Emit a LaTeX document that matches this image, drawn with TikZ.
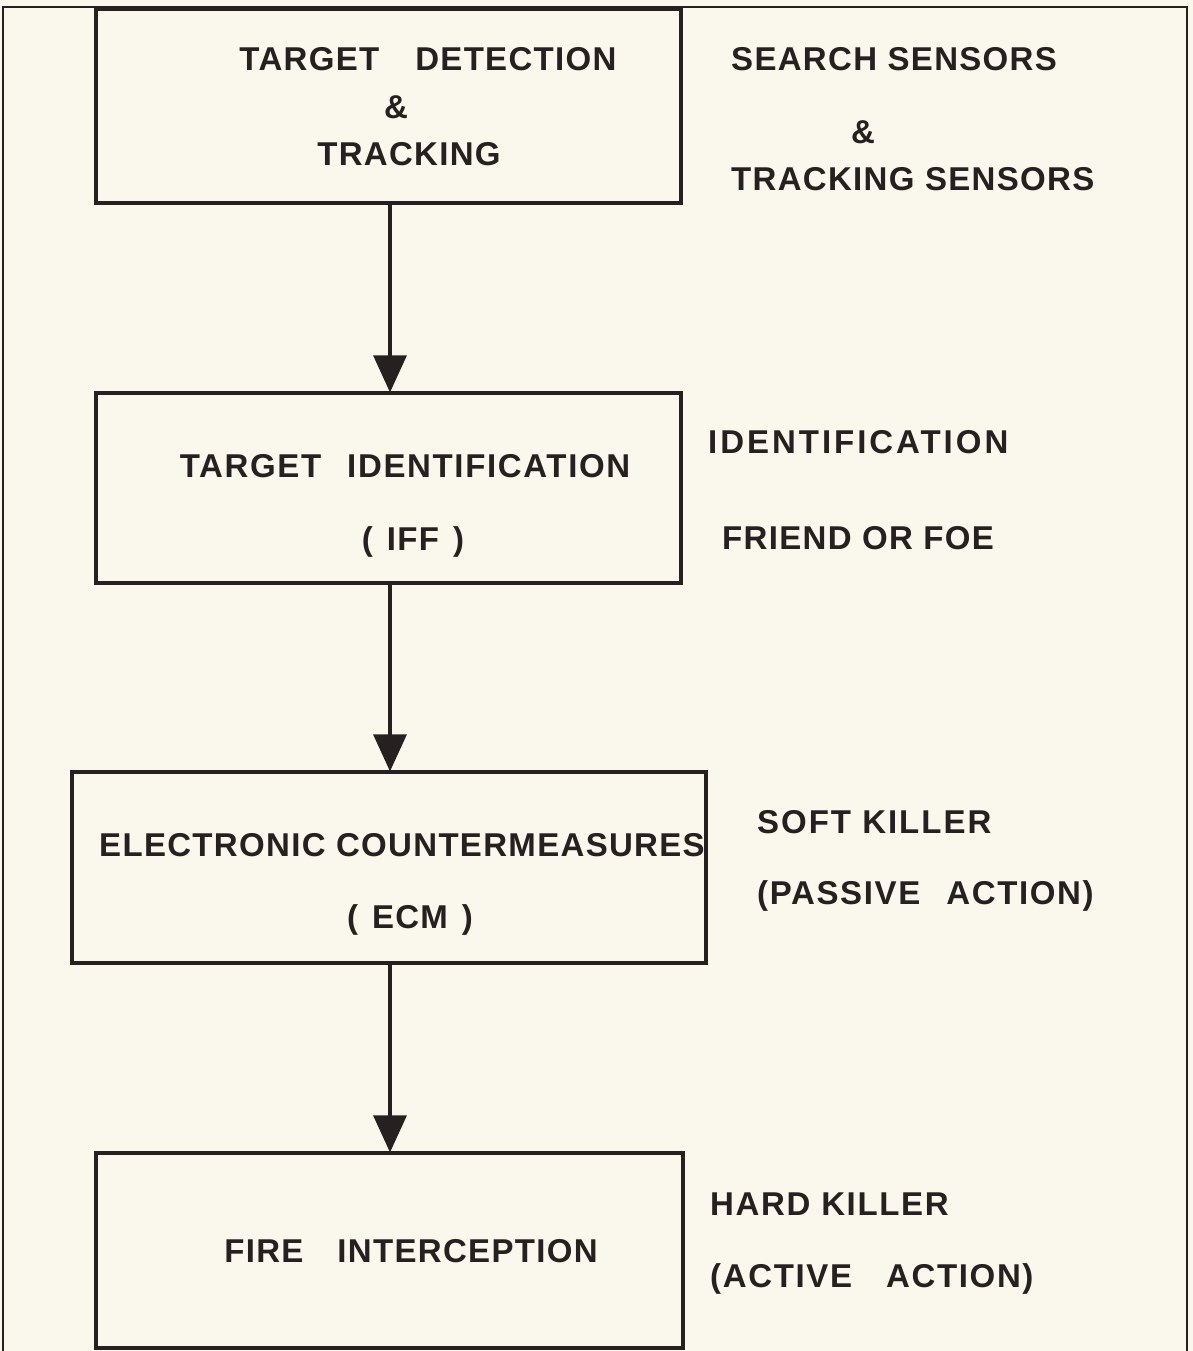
\documentclass[tikz,border=0pt]{standalone}
\usepackage{fontspec}
\setmainfont[LetterSpace=4]{Liberation Sans}
\usetikzlibrary{arrows.meta}
\definecolor{paper}{RGB}{250,248,236}
\definecolor{ink}{RGB}{38,32,32}
\newcommand{\wider}[1]{\addfontfeature{LetterSpace=#1}}
\tikzset{
  blk/.style={draw=ink, line width=3.2pt, fill=none, inner sep=0pt},
  lbl/.style={text=ink, inner sep=0pt, font=\fontsize{33}{40}\selectfont\bfseries},
  flow/.style={draw=ink, line width=3.2pt, -{Triangle[length=37pt,width=33pt]}, shorten >=-1pt},
}
\begin{document}
\begin{tikzpicture}[x=1pt,y=-1pt]
\useasboundingbox (0,0) rectangle (1193,1351);
\fill[paper] (0,0) rectangle (1193,1351);
% outer frame
\draw[ink, line width=2pt] (3,1351) -- (3,7) -- (1187,7) -- (1187,1351);
% boxes
\node[blk, minimum width=585pt, minimum height=194pt] (b1) at (388.5,106) {};
\node[blk, minimum width=585pt, minimum height=190pt] (b2) at (388.5,488) {};
\node[blk, minimum width=634pt, minimum height=191pt] (b3) at (389,867.5) {};
\node[blk, minimum width=587pt, minimum height=195pt] (b4) at (389.5,1250.5) {};
% arrows
\draw[flow] (b1.south -| 390,0) -- (b2.north -| 390,0);
\draw[flow] (b2.south -| 390,0) -- (b3.north -| 390,0);
\draw[flow] (b3.south -| 390,0) -- (b4.north -| 390,0);
% box texts
\node[lbl, anchor=base] (t1a) at (428,71) {TARGET\hspace{36pt}DETECTION};
\node[lbl, anchor=base] (t1b) at (396,119) {\&};
\node[lbl, anchor=base] (t1c) at (409,166) {TRACKING};
\node[lbl, anchor=base] (t2a) at (405,477) {\wider{5}TARGET\hspace{26pt}IDENTIFICATION};
\node[lbl, anchor=base] (t2b) at (413,550) {(\hspace{14pt}IFF\hspace{14pt})};
\node[lbl, anchor=base] (t3a) at (402,856) {ELECTRONIC COUNTERMEASURES};
\node[lbl, anchor=base] (t3b) at (410,928) {(\hspace{14pt}ECM\hspace{14pt})};
\node[lbl, anchor=base] (t4a) at (411,1262) {FIRE\hspace{34pt}INTERCEPTION};
% side texts
\node[lbl, anchor=base west] (s1a) at (731,71) {SEARCH SENSORS};
\node[lbl, anchor=base] (s1b) at (863,144) {\&};
\node[lbl, anchor=base west] (s1c) at (731,190) {TRACKING SENSORS};
\node[lbl, anchor=base west] (s2a) at (708,453) {\wider{9}IDENTIFICATION};
\node[lbl, anchor=base west] (s2b) at (722,549) {FRIEND OR FOE};
\node[lbl, anchor=base west] (s3a) at (757,833) {\wider{6}SOFT KILLER};
\node[lbl, anchor=base west] (s3b) at (757,904) {\wider{5}(PASSIVE\hspace{26pt}ACTION)};
\node[lbl, anchor=base west] (s4a) at (710,1215) {\wider{5}HARD KILLER};
\node[lbl, anchor=base west] (s4b) at (710,1287) {\wider{5}(ACTIVE\hspace{34pt}ACTION)};
\end{tikzpicture}
\end{document}
